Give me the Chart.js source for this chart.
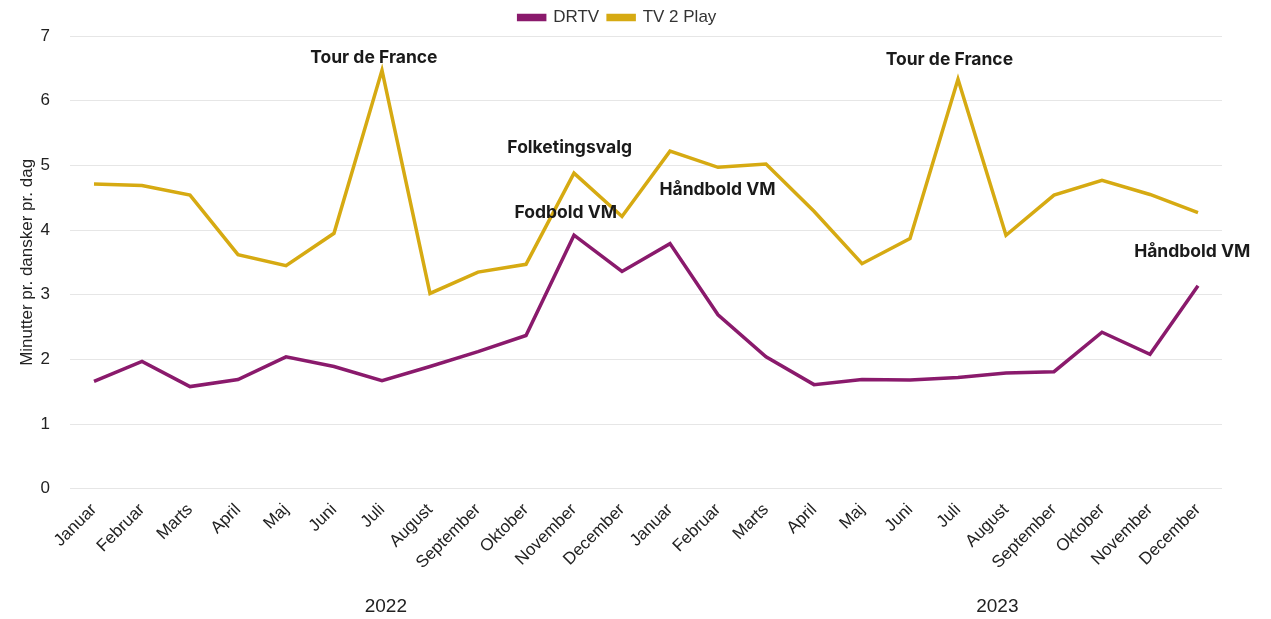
<!DOCTYPE html>
<html lang="da">
<head>
  <meta charset="UTF-8" />
  <title>DRTV og TV 2 Play</title>
  <script src="https://cdn.jsdelivr.net/npm/chart.js"></script>
  <style>
    body {
      margin: 0;
      background: #ffffff;
    }
  </style>
</head>
<body>
  <canvas id="grafik" width="1271" height="619"></canvas>

  <script>
    const maaneder = ['Januar', 'Februar', 'Marts', 'April', 'Maj', 'Juni', 'Juli', 'August',
      'September', 'Oktober', 'November', 'December'];
    const labels = maaneder.concat(maaneder);
    const aar = ['2022', '2023'];

    const drtv = [1.66, 1.97, 1.58, 1.69, 2.04, 1.89, 1.67, 1.89, 2.12, 2.37, 3.92, 3.36,
      3.79, 2.69, 2.04, 1.61, 1.69, 1.68, 1.72, 1.79, 1.81, 2.42, 2.08, 3.14];
    const tv2play = [4.71, 4.69, 4.54, 3.62, 3.45, 3.95, 6.47, 3.02, 3.35, 3.47, 4.88, 4.21,
      5.22, 4.97, 5.02, 4.29, 3.48, 3.87, 6.33, 3.92, 4.54, 4.77, 4.55, 4.27];

    // begivenheder: tekst, måned-indeks, niveau
    const begivenheder = ['Tour de France', 'Folketingsvalg', 'Fodbold VM', 'Håndbold VM', 'Tour de France', 'Håndbold VM'];
    const begivenhedX = [5.83, 9.91, 9.83, 12.99, 17.82, 22.88];
    const begivenhedY = [6.67, 5.27, 4.26, 4.62, 6.63, 3.67];
    const aarX = [6.08, 18.82];

    const FONT = '"Liberation Sans", Arial, sans-serif';
    const FED = 'Inter, "Noto Sans", Arial, sans-serif';

    const tekster = {
      id: 'tekster',
      afterDraw(chart) {
        const { ctx, scales } = chart;
        ctx.save();
        ctx.fillStyle = '#1a1a1a';
        ctx.textAlign = 'center';
        ctx.textBaseline = 'middle';
        ctx.font = 'bold 17.5px ' + FED;
        begivenheder.forEach((t, i) => {
          ctx.fillText(t, scales.x.getPixelForValue(begivenhedX[i]), scales.y.getPixelForValue(begivenhedY[i]));
        });
        ctx.font = '19px ' + FONT;
        ctx.fillStyle = '#222';
        aar.forEach((a, i) => {
          ctx.fillText(a, scales.x.getPixelForValue(aarX[i]), 607);
        });
        ctx.restore();
      }
    };

    new Chart(document.getElementById('grafik'), {
      type: 'line',
      data: {
        labels: labels,
        datasets: [
          {
            label: 'DRTV',
            data: drtv,
            borderColor: '#8a1a6c',
            backgroundColor: '#8a1a6c',
            borderWidth: 3.5,
            pointRadius: 0,
            tension: 0
          },
          {
            label: 'TV 2 Play',
            data: tv2play,
            borderColor: '#d6aa12',
            backgroundColor: '#d6aa12',
            borderWidth: 3.5,
            pointRadius: 0,
            tension: 0
          }
        ]
      },
      options: {
        responsive: false,
        animation: false,
        layout: {
          padding: { left: 13, right: 49, top: 0, bottom: 43 }
        },
        plugins: {
          legend: {
            position: 'top',
            labels: {
              boxWidth: 26,
              boxHeight: 4,
              padding: 9,
              color: '#333',
              font: { family: FONT, size: 17 }
            }
          },
          tooltip: { enabled: false }
        },
        scales: {
          x: {
            offset: true,
            grid: { display: false },
            border: { display: false },
            afterFit: (scale) => { scale.paddingLeft = 0; },
            ticks: {
              autoSkip: false,
              maxRotation: 45,
              minRotation: 45,
              color: '#222',
              font: { family: FONT, size: 17 }
            }
          },
          y: {
            min: 0,
            max: 7,
            border: { display: false },
            grid: { color: '#e6e6e6', drawTicks: false },
            afterFit: (scale) => { scale.width = 57; },
            ticks: {
              stepSize: 1,
              padding: 20,
              color: '#222',
              font: { family: FONT, size: 17 }
            },
            title: {
              display: true,
              text: 'Minutter pr. dansker pr. dag',
              color: '#222',
              font: { family: FONT, size: 17 }
            }
          }
        }
      },
      plugins: [tekster]
    });
  </script>
</body>
</html>
